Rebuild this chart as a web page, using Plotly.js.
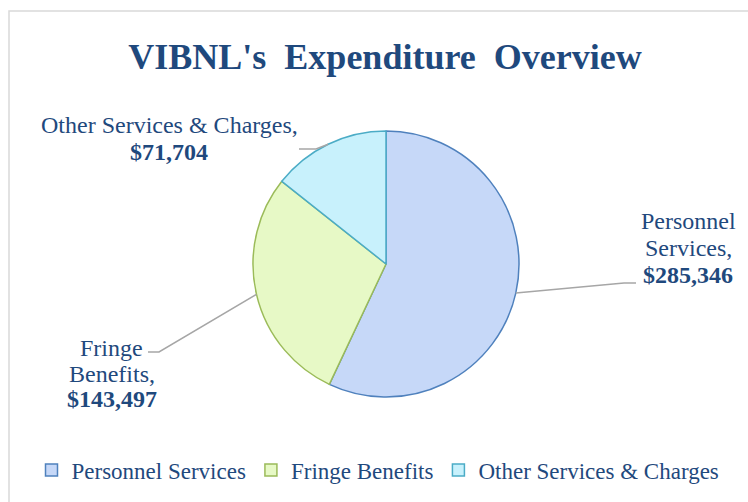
<!DOCTYPE html>
<html>
<head>
<meta charset="utf-8">
<script src="https://cdn.plot.ly/plotly-3.0.1.min.js"></script>
<style>html,body{margin:0;padding:0;background:#fff;}#chart{width:748px;height:502px;}</style>
</head>
<body>
<div id="chart"></div>
<script>
// ---- data ----
var categories = ["Personnel Services", "Fringe Benefits", "Other Services & Charges"];
var values = [285346, 143497, 71704];
var labelLines = [["Personnel", "Services,"], ["Fringe", "Benefits,"], ["Other Services & Charges,"]];
var titleText = "VIBNL's\u00a0 Expenditure\u00a0 Overview";

// ---- styling ----
var fills = ["#c6d8f8", "#e7f9c6", "#c8f1fc"];
var edges = ["#4f81bd", "#9bbb59", "#4bacc6"];
var textColor = "#1f497d";
var serif = "Liberation Serif, Times New Roman, serif";
var W = 748, H = 502;
var pieCx = 386, pieCy = 264, pieR = 133;
function X(px) { return px / W; }
function Y(py) { return 1 - py / H; }

// label placement (text block centres and line centres in px)
var labelX = [688, 112, 169];
var labelTop = [221, 348, 125];
var lineStep = [27, 25.7, 27];
// leader line label-side anchor points [end x, stub x, y]
var leaderEnd = [[636, 624, 283], [148, 159, 352], [299, 316, 149]];

var total = values.reduce(function (a, b) { return a + b; }, 0);
function fmt(v) { return "$" + v.toLocaleString("en-US"); }

var annotations = [];
var shapes = [];
var cum = 0;
for (var i = 0; i < values.length; i++) {
  var lines = labelLines[i].slice();
  var mid = (cum + values[i] / 2) / total * 2 * Math.PI; // clockwise from top
  cum += values[i];
  for (var j = 0; j <= lines.length; j++) {
    var isVal = j === lines.length;
    annotations.push({
      xref: "paper", yref: "paper",
      x: X(labelX[i]), y: Y(labelTop[i] + j * lineStep[i]),
      xanchor: "center", yanchor: "middle",
      text: isVal ? "<b>" + fmt(values[i]) + "</b>" : lines[j],
      showarrow: false,
      font: { family: serif, size: 24, color: textColor }
    });
  }
  var ex = pieCx + pieR * Math.sin(mid);
  var ey = pieCy - pieR * Math.cos(mid);
  var le = leaderEnd[i];
  shapes.push({
    type: "path", xref: "paper", yref: "paper",
    path: "M" + X(ex) + "," + Y(ey) + " L" + X(le[1]) + "," + Y(le[2]) + " L" + X(le[0]) + "," + Y(le[2]),
    line: { color: "#a6a6a6", width: 1.5 }
  });
}
// chart frame
shapes.push({
  type: "rect", xref: "paper", yref: "paper",
  x0: X(9), x1: X(760), y0: Y(515), y1: Y(11),
  line: { color: "#d9d9d9", width: 1.5 }, layer: "below"
});

var trace = {
  type: "pie",
  labels: categories,
  values: values,
  sort: false,
  direction: "clockwise",
  rotation: 0,
  textinfo: "none",
  hoverinfo: "label+value",
  marker: { colors: fills, line: { color: edges, width: 1.5 } },
  domain: { x: [X(pieCx - pieR), X(pieCx + pieR)], y: [Y(pieCy + pieR), Y(pieCy - pieR)] }
};

var layout = {
  width: W, height: H,
  margin: { l: 0, r: 0, t: 0, b: 0 },
  paper_bgcolor: "#ffffff",
  title: {
    text: "<b>" + titleText + "</b>",
    x: X(385), xanchor: "center", xref: "paper",
    y: Y(56), yanchor: "middle", yref: "paper",
    font: { family: serif, size: 36, color: textColor }
  },
  showlegend: true,
  legend: {
    orientation: "h",
    x: X(378), xanchor: "center",
    y: Y(470), yanchor: "middle",
    font: { family: serif, size: 23, color: textColor },
    traceorder: "normal"
  },
  annotations: annotations,
  shapes: shapes
};

Plotly.newPlot("chart", [trace], layout, { displayModeBar: false, staticPlot: true });
</script>
</body>
</html>
